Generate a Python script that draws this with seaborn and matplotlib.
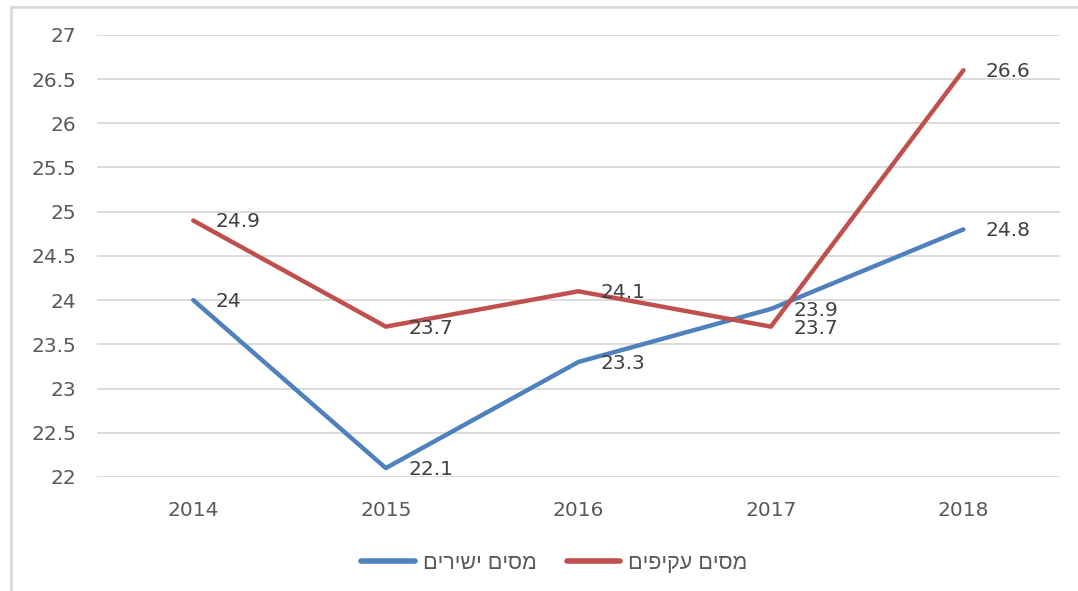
import pandas as pd
import matplotlib.pyplot as plt
import seaborn as sns
from matplotlib.patches import Rectangle

# Data
years = [2014, 2015, 2016, 2017, 2018]
direct_tax = [24, 22.1, 23.3, 23.9, 24.8]
indirect_tax = [24.9, 23.7, 24.1, 23.7, 26.6]
series_names = ["מסים ישירים", "מסים עקיפים"]
y_ticks = [22, 22.5, 23, 23.5, 24, 24.5, 25, 25.5, 26, 26.5, 27]

# matplotlib has no bidi support, so Hebrew is reversed into visual order
def visual(text):
    return text[::-1]

df = pd.DataFrame({
    "year": years * 2,
    "value": direct_tax + indirect_tax,
    "series": [visual(series_names[0])] * len(years) + [visual(series_names[1])] * len(years),
})

sns.set_style("white")
plt.rcParams["font.family"] = ["DejaVu Sans"]

fig = plt.figure(figsize=(10.78, 5.91), dpi=100)
ax = fig.add_axes([0.09, 0.193, 0.893, 0.748])

palette = {visual(series_names[0]): "#4F81BD", visual(series_names[1]): "#C0504D"}
sns.lineplot(data=df, x="year", y="value", hue="series", palette=palette,
             linewidth=3.2, ax=ax, legend=True)

# data labels
for name, vals in zip(series_names, [direct_tax, indirect_tax]):
    for x, y in zip(years, vals):
        ax.annotate(f"{y:g}", (x, y), xytext=(16, -1), textcoords="offset points",
                    va="center", ha="left", fontsize=14.5, color="#404040")

ax.set_xlim(2013.5, 2018.5)
ax.set_ylim(22, 27)
ax.set_xticks(years)
ax.set_yticks(y_ticks)
ax.set_yticklabels([f"{t:g}" for t in y_ticks])
ax.grid(axis="y", color="#d9d9d9", linewidth=1.3)
ax.set_axisbelow(True)
for s in ax.spines.values():
    s.set_visible(False)
ax.tick_params(axis="both", length=0, labelsize=14.5, labelcolor="#595959")
ax.tick_params(axis="y", pad=15)
ax.tick_params(axis="x", pad=17)
ax.set_xlabel("")
ax.set_ylabel("")

leg = ax.legend(loc="center", bbox_to_anchor=(0.475, -0.195), ncol=2, frameon=False,
                prop={"family": ["Liberation Sans", "DejaVu Sans"], "size": 15.5},
                handlelength=2.5, columnspacing=1.4, handletextpad=0.35)
for t in leg.get_texts():
    t.set_color("#595959")
for line in leg.get_lines():
    line.set_linewidth(4)
    line.set_solid_capstyle("round")

# chart frame
fig.patches.append(Rectangle((11 / 1078, -0.05), 1.1, 1 - 7 / 591 + 0.05,
                             transform=fig.transFigure, fill=False,
                             edgecolor="#d9d9d9", linewidth=2))

fig.savefig("out.png", dpi=100)
